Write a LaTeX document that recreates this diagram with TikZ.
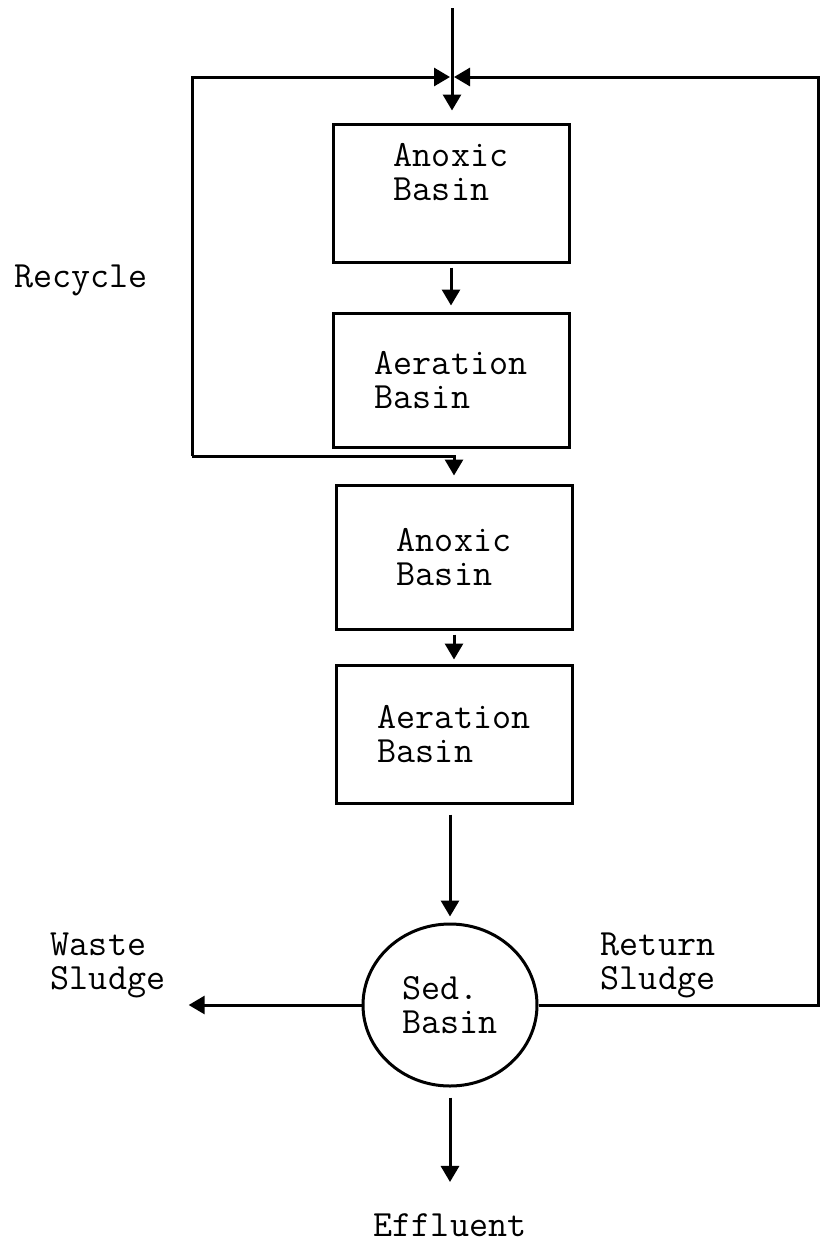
\documentclass[tikz,border=0pt]{standalone}
\usetikzlibrary{arrows.meta,shapes.geometric}
\begin{document}
\begin{tikzpicture}[x=0.5pt,y=-0.5pt,line width=1.5pt,
        flow/.style={-{Triangle[length=8pt,width=9pt]}},
        typed/.style={align=left,inner sep=1pt,font=\ttfamily\fontsize{18.5}{17}\selectfont},
        basin/.style={typed,draw,minimum width=118pt,minimum height=69pt}]
        \useasboundingbox (0,0) rectangle (821,1258);
        %% Basins
        \node[basin,text depth=21pt] (anox1) at (451,193) {Anoxic\\Basin};
        \node[basin,minimum height=67pt] (aer1) at (451,380) {Aeration\\Basin};
        \node[basin,minimum height=72pt] (anox2) at (454,557) {Anoxic\\Basin};
        \node[basin] (aer2) at (454,734) {Aeration\\Basin};
        \node[typed,draw,ellipse,minimum width=87pt,minimum height=81pt] (sed) at (450,1005) {Sed.\\Basin};
        %% Labels
        \node[typed] (recycle) at (81,280) {Recycle};
        \node[typed] (waste) at (108,965) {Waste\\Sludge};
        \node[typed] (return) at (658,965) {Return\\Sludge};
        \node[typed] (effluent) at (450,1225) {Effluent};
        %% Junctions
        \coordinate (feed) at (452,8);
        \coordinate (jn) at (452,77);
        \coordinate (rl) at (192,77);
        \coordinate (rr) at (818,77);
        \coordinate (rec) at (192,456);
        %% Main line
        \draw[flow,shorten >=6pt] (feed) -- (feed |- anox1.north);
        \draw[flow,shorten <=2pt,shorten >=3pt] (anox1.south) -- (aer1.north);
        \draw[flow,shorten >=4pt] (rec) -- (rec -| anox2.north) -- (anox2.north);
        \draw[flow,shorten <=2pt,shorten >=2pt] (anox2.south) -- (aer2.north);
        \draw[flow,shorten <=5pt,shorten >=3pt] (aer2.south -| sed.north) -- (sed.north);
        \draw[flow,shorten <=5pt,shorten >=14pt] (sed.south) -- (effluent.north);
        %% Recycle and sludge
        \draw[flow] (rec) -- (rl) -- ([xshift=-1pt]jn);
        \draw[flow] (sed.east) -- (sed.east -| rr) -- (rr) -- ([xshift=1pt]jn);
        \draw[flow,shorten >=10pt] (sed.west) -- (waste.east |- sed.west);
    \end{tikzpicture}
\end{document}
